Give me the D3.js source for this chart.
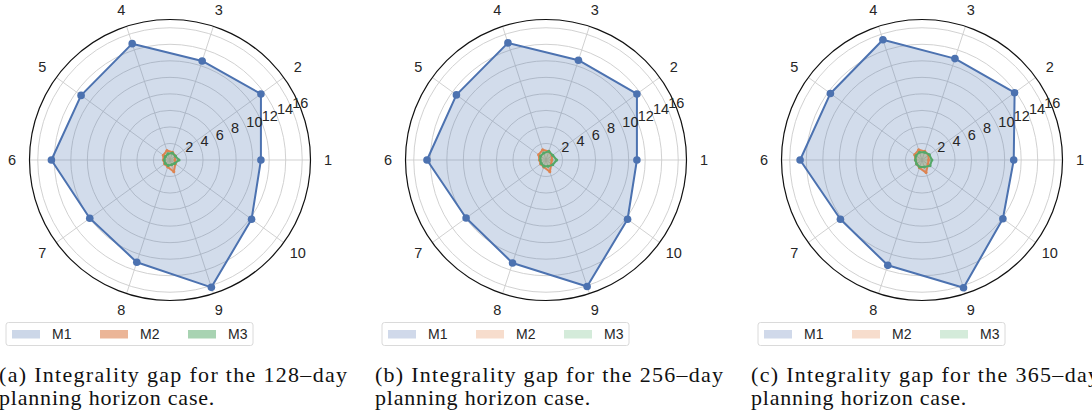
<!DOCTYPE html>
<html>
<head>
<meta charset="utf-8">
<script src="https://cdn.jsdelivr.net/npm/d3@7"></script>
<style>
  html, body { margin: 0; padding: 0; background: #fff; }
  svg { display: block; }
  .tick-label, .cat-label, .legend-label { font-family: "Liberation Sans", Arial, sans-serif; fill: #262626; }
  .caption { font-family: "Liberation Serif", "DejaVu Serif", serif; fill: #111; }
</style>
</head>
<body>
<svg id="chart" width="1092" height="416"></svg>
<script>
// ── Data ──────────────────────────────────────────────────────────────────
const categories = ["1", "2", "3", "4", "5", "6", "7", "8", "9", "10"];
const seriesNames = ["M1", "M2", "M3"];
const radialTicks = [2, 4, 6, 8, 10, 12, 14, 16];
const radialMax = 17;

// 128-day
const m1Day128 = [11.0, 13.6, 12.6, 14.8, 13.3, 14.35, 12.0, 13.0, 16.2, 12.2];
const m2Day128 = [0.6, 0.8, 1.0, 1.2, 1.0, 0.8, 0.8, 0.9, 1.5, 0.8];
const m3Day128 = [1.1, 0.8, 0.9, 0.8, 0.7, 0.7, 0.7, 0.7, 0.6, 0.7];
// 256-day
const m1Day256 = [11.0, 13.6, 12.7, 14.9, 13.4, 14.4, 11.95, 13.1, 16.1, 12.2];
const m2Day256 = [0.7, 0.9, 1.1, 1.3, 1.1, 0.8, 0.8, 0.9, 1.5, 0.8];
const m3Day256 = [1.3, 1.0, 1.1, 0.9, 0.8, 0.7, 0.7, 0.8, 0.8, 1.0];
// 365-day
const m1Day365 = [11.1, 13.85, 12.9, 15.3, 13.7, 14.75, 12.2, 13.4, 16.25, 12.1];
const m2Day365 = [0.8, 1.0, 1.1, 1.3, 1.1, 0.8, 0.8, 1.0, 1.6, 0.9];
const m3Day365 = [1.2, 1.1, 1.0, 1.0, 0.9, 0.8, 0.8, 0.9, 0.9, 1.2];

const captionTags = ["(a)", "(b)", "(c)"];
const horizonDays = ["128", "256", "365"];

// ── Style ─────────────────────────────────────────────────────────────────
const LINE_COLORS = ["#4c72b0", "#dd8452", "#55a868"];
const LEGEND_COLORS = [
  ["#ccd7e8", "#ebb597", "#a8d3b2"],
  ["#d0d9ea", "#f7ddcd", "#d4ebda"],
  ["#d0d9ea", "#f7ddcd", "#d4ebda"],
];
const centersX = [170, 546, 922];
const centerY = 160;
const outerR = 140.5;

const panelSeries = [
  [m1Day128, m2Day128, m3Day128],
  [m1Day256, m2Day256, m3Day256],
  [m1Day365, m2Day365, m3Day365],
];

const svg = d3.select("#chart");
const r = d3.scaleLinear().domain([0, radialMax]).range([0, outerR]);
// math angle, counter-clockwise from 3 o'clock
const theta = d3
  .scaleLinear()
  .domain([0, categories.length])
  .range([0, 2 * Math.PI]);
// d3 radial angle is clockwise from 12 o'clock
const d3Angle = (i) => Math.PI / 2 - theta(i);

const radialLine = d3
  .lineRadial()
  .angle((d, i) => d3Angle(i))
  .radius((d) => r(d))
  .curve(d3.curveLinearClosed);

function drawPanel(p) {
  const g = svg
    .append("g")
    .attr("transform", `translate(${centersX[p]},${centerY})`);

  // ── grid ──
  g.append("g")
    .selectAll("circle")
    .data(radialTicks)
    .join("circle")
    .attr("r", (d) => r(d))
    .attr("fill", "none")
    .attr("stroke", "#cccccc")
    .attr("stroke-width", 0.9);

  g.append("g")
    .selectAll("line")
    .data(categories)
    .join("line")
    .attr("x2", (d, i) => outerR * Math.cos(theta(i)))
    .attr("y2", (d, i) => -outerR * Math.sin(theta(i)))
    .attr("stroke", "#cccccc")
    .attr("stroke-width", 0.9);

  // ── series ──
  const series = panelSeries[p];
  series.forEach((vals, s) => {
    g.append("path")
      .attr("d", radialLine(vals))
      .attr("fill", LINE_COLORS[s])
      .attr("fill-opacity", 0.25)
      .attr("stroke", "none");
  });
  series.forEach((vals, s) => {
    g.append("path")
      .attr("d", radialLine(vals))
      .attr("fill", "none")
      .attr("stroke", LINE_COLORS[s])
      .attr("stroke-width", 2)
      .attr("stroke-linejoin", "round");
    g.append("g")
      .selectAll("circle")
      .data(vals)
      .join("circle")
      .attr("cx", (d, i) => r(d) * Math.cos(theta(i)))
      .attr("cy", (d, i) => -r(d) * Math.sin(theta(i)))
      .attr("r", s === 0 ? 3.8 : 1.5)
      .attr("fill", LINE_COLORS[s]);
  });

  // ── outer frame ──
  g.append("circle")
    .attr("r", outerR)
    .attr("fill", "none")
    .attr("stroke", "#111")
    .attr("stroke-width", 1.2);

  // ── radial tick labels (at 22.5°) ──
  const labAng = Math.PI / 8;
  g.append("g")
    .selectAll("text")
    .data(radialTicks)
    .join("text")
    .attr("class", "tick-label")
    .attr("x", (d) => r(d) * Math.cos(labAng))
    .attr("y", (d) => -r(d) * Math.sin(labAng) - 1.5)
    .attr("font-size", 14.5)
    .text((d) => d);

  // ── category labels ──
  g.append("g")
    .selectAll("text")
    .data(categories)
    .join("text")
    .attr("class", "cat-label")
    .attr("x", (d, i) => 158 * Math.cos(theta(i)))
    .attr("y", (d, i) => -158 * Math.sin(theta(i)))
    .attr("text-anchor", "middle")
    .attr("dominant-baseline", "central")
    .attr("font-size", 14.5)
    .text((d) => d);

  // ── legend ──
  const lg = g.append("g").attr("transform", `translate(-164,${334 - centerY})`);
  lg.append("rect")
    .attr("x", 0)
    .attr("y", -11.5)
    .attr("width", 247)
    .attr("height", 23)
    .attr("rx", 2.5)
    .attr("fill", "#fff")
    .attr("stroke", "#d6d6d6")
    .attr("stroke-width", 0.9);
  const item = lg
    .selectAll(".item")
    .data(seriesNames)
    .join("g")
    .attr("class", "item")
    .attr("transform", (d, i) => `translate(${6 + i * 88},0)`);
  item
    .append("rect")
    .attr("x", 0)
    .attr("y", -4)
    .attr("width", 28)
    .attr("height", 8.5)
    .attr("fill", (d, i) => LEGEND_COLORS[p][i]);
  item
    .append("text")
    .attr("class", "legend-label")
    .attr("x", 40)
    .attr("y", 0)
    .attr("dominant-baseline", "central")
    .attr("font-size", 14)
    .text((d) => d);

  // ── caption ──
  const cap = svg
    .append("g")
    .attr("transform", `translate(${centersX[p] - 171},0)`);
  cap
    .append("text")
    .attr("class", "caption")
    .attr("x", 0)
    .attr("y", 382)
    .attr("font-size", 22)
    .attr("textLength", 348)
    .attr("lengthAdjust", "spacing")
    .text(`${captionTags[p]} Integrality gap for the ${horizonDays[p]}–day`);
  cap
    .append("text")
    .attr("class", "caption")
    .attr("x", 0)
    .attr("y", 405)
    .attr("font-size", 22)
    .attr("letter-spacing", 0.8)
    .text("planning horizon case.");
}

[0, 1, 2].forEach(drawPanel);
</script>
</body>
</html>
